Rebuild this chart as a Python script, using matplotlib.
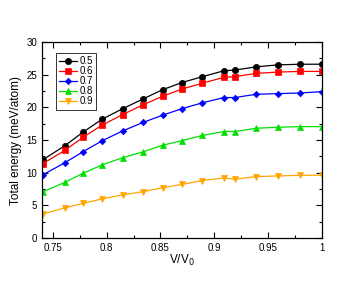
import matplotlib
matplotlib.use("Agg")
import matplotlib.pyplot as plt
from matplotlib.ticker import MultipleLocator

plt.rcParams['font.family'] = ['Liberation Sans', 'DejaVu Sans']

x = [0.741, 0.761, 0.778, 0.796, 0.815, 0.834, 0.852, 0.870, 0.889, 0.909, 0.919, 0.939, 0.959, 0.980, 1.0]
e05 = [12.0, 14.1, 16.2, 18.2, 19.8, 21.3, 22.7, 23.8, 24.7, 25.6, 25.7, 26.2, 26.5, 26.6, 26.6]
e06 = [11.4, 13.4, 15.4, 17.3, 18.9, 20.4, 21.7, 22.8, 23.7, 24.6, 24.7, 25.2, 25.4, 25.5, 25.5]
e07 = [9.7, 11.5, 13.2, 14.9, 16.4, 17.7, 18.8, 19.8, 20.7, 21.5, 21.5, 22.0, 22.1, 22.2, 22.4]
e08 = [7.1, 8.5, 9.9, 11.2, 12.3, 13.2, 14.2, 14.9, 15.7, 16.3, 16.3, 16.8, 16.95, 17.05, 17.05]
e09 = [3.7, 4.6, 5.3, 6.0, 6.6, 7.1, 7.7, 8.2, 8.8, 9.2, 9.0, 9.4, 9.5, 9.6, 9.6]
labels = ['0.5', '0.6', '0.7', '0.8', '0.9']
series = [e05, e06, e07, e08, e09]
colors = ['#000000', '#ff0000', '#0000ff', '#00e000', '#ffa500']
markers = ['o', 's', 'D', '^', 'v']
msizes = [4.5, 4.0, 3.3, 4.2, 4.2]

fig = plt.figure(figsize=(3.63, 2.81), dpi=100)
ax = fig.add_axes([0.1157, 0.153, 0.7713, 0.6975])
for y, lab, c, m, ms in zip(series, labels, colors, markers, msizes):
    ax.plot(x, y, color=c, marker=m, markersize=ms, linewidth=0.9, label=lab,
            markeredgewidth=0.5, markeredgecolor=c)

ax.set_xlim(0.74, 1.0)
ax.set_ylim(0, 30)
ax.xaxis.set_major_locator(MultipleLocator(0.05))
ax.xaxis.set_minor_locator(MultipleLocator(0.025))
ax.yaxis.set_major_locator(MultipleLocator(5))
ax.yaxis.set_minor_locator(MultipleLocator(2.5))
ax.set_xticks([0.75, 0.8, 0.85, 0.9, 0.95, 1.0])
ax.set_xticklabels(['0.75', '0.8', '0.85', '0.9', '0.95', '1'])
ax.tick_params(which='both', direction='in', top=True, right=True, labelsize=7, width=0.8)
ax.tick_params(which='major', length=4)
ax.tick_params(which='minor', length=2)
for s in ax.spines.values():
    s.set_linewidth(0.9)
ax.set_xlabel('V/V$_0$', fontsize=8.5, labelpad=0)
ax.set_ylabel('Total energy (meV/atom)', fontsize=8.5, labelpad=3)

leg = ax.legend(loc='upper left', bbox_to_anchor=(0.05, 0.945), fontsize=7, frameon=True,
                fancybox=False, edgecolor='black', handlelength=1.8, handletextpad=0.25,
                borderpad=0.35, labelspacing=0.0, borderaxespad=0)
leg.get_frame().set_linewidth(0.7)

fig.savefig('out.png', dpi=100)
